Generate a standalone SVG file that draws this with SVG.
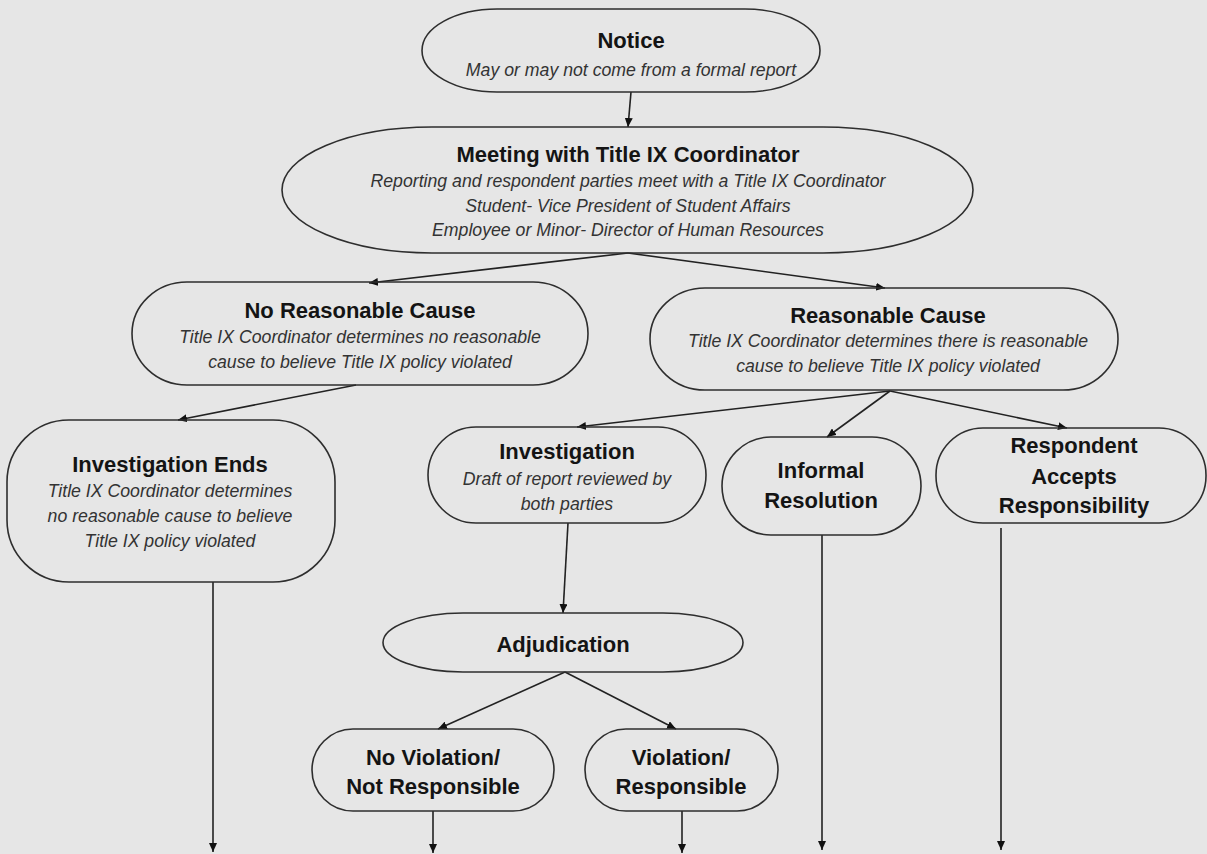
<svg xmlns="http://www.w3.org/2000/svg" width="1207" height="854" viewBox="0 0 1207 854">
<style>
.n{fill:none;stroke:#2e2e2e;stroke-width:1.6}
.t{font-family:"Liberation Sans",Arial,sans-serif;font-weight:bold;font-size:22px;fill:#141414;text-anchor:middle}
.s{font-family:"Liberation Sans",Arial,sans-serif;font-style:italic;font-size:17.7px;fill:#333;text-anchor:middle}
.c{fill:none;stroke:#222;stroke-width:1.6}
</style>
<defs>
<marker id="ah" markerUnits="userSpaceOnUse" markerWidth="9" markerHeight="8" refX="9" refY="4" orient="auto">
<path d="M0,0 L9,4 L0,8 z" fill="#111"/>
</marker>
</defs>
<rect width="1207" height="854" fill="#e6e6e6"/>
<g id="connectors">
<line class="c" x1="631" y1="92" x2="628" y2="127" marker-end="url(#ah)"/>
<line class="c" x1="628" y1="253" x2="369" y2="283" marker-end="url(#ah)"/>
<line class="c" x1="628" y1="253" x2="885" y2="288" marker-end="url(#ah)"/>
<line class="c" x1="356" y1="385" x2="178" y2="420" marker-end="url(#ah)"/>
<line class="c" x1="890" y1="391" x2="577" y2="427" marker-end="url(#ah)"/>
<line class="c" x1="890" y1="391" x2="827" y2="437" marker-end="url(#ah)"/>
<line class="c" x1="890" y1="391" x2="1067" y2="428" marker-end="url(#ah)"/>
<line class="c" x1="568" y1="523" x2="563" y2="613" marker-end="url(#ah)"/>
<line class="c" x1="565" y1="672" x2="438" y2="729" marker-end="url(#ah)"/>
<line class="c" x1="565" y1="672" x2="676" y2="729" marker-end="url(#ah)"/>
<line class="c" x1="213" y1="582" x2="213" y2="852" marker-end="url(#ah)"/>
<line class="c" x1="433" y1="811" x2="433" y2="853" marker-end="url(#ah)"/>
<line class="c" x1="682" y1="811" x2="682" y2="853" marker-end="url(#ah)"/>
<line class="c" x1="822" y1="535" x2="822" y2="850" marker-end="url(#ah)"/>
<line class="c" x1="1001" y1="528" x2="1001" y2="850" marker-end="url(#ah)"/>
</g>
<g id="notice">
<rect class="n" x="422" y="9" width="398" height="83" rx="75" ry="41.5"/>
<text class="t" x="631" y="48">Notice</text>
<text class="s" x="631" y="76">May or may not come from a formal report</text>
</g>
<g id="meeting">
<rect class="n" x="282" y="127" width="691" height="126" rx="150" ry="63"/>
<text class="t" x="628" y="162">Meeting with Title IX Coordinator</text>
<text class="s" x="628" y="187">Reporting and respondent parties meet with a Title IX Coordinator</text>
<text class="s" x="628" y="212">Student- Vice President of Student Affairs</text>
<text class="s" x="628" y="236">Employee or Minor- Director of Human Resources</text>
</g>
<g id="no-reasonable-cause">
<rect class="n" x="132" y="282" width="456" height="103" rx="55" ry="51.5"/>
<text class="t" x="360" y="318">No Reasonable Cause</text>
<text class="s" x="360" y="343">Title IX Coordinator determines no reasonable</text>
<text class="s" x="360" y="368">cause to believe Title IX policy violated</text>
</g>
<g id="reasonable-cause">
<rect class="n" x="650" y="288" width="468" height="102" rx="55" ry="51"/>
<text class="t" x="888" y="323">Reasonable Cause</text>
<text class="s" x="888" y="347">Title IX Coordinator determines there is reasonable</text>
<text class="s" x="888" y="372">cause to believe Title IX policy violated</text>
</g>
<g id="investigation-ends">
<rect class="n" x="7" y="420" width="328" height="162" rx="62" ry="62"/>
<text class="t" x="170" y="472">Investigation Ends</text>
<text class="s" x="170" y="497">Title IX Coordinator determines</text>
<text class="s" x="170" y="522">no reasonable cause to believe</text>
<text class="s" x="170" y="547">Title IX policy violated</text>
</g>
<g id="investigation">
<rect class="n" x="428" y="427" width="278" height="96" rx="48" ry="48"/>
<text class="t" x="567" y="459">Investigation</text>
<text class="s" x="567" y="485">Draft of report reviewed by</text>
<text class="s" x="567" y="510">both parties</text>
</g>
<g id="informal-resolution">
<rect class="n" x="722" y="437" width="199" height="98" rx="49" ry="49"/>
<text class="t" x="821" y="478">Informal</text>
<text class="t" x="821" y="508">Resolution</text>
</g>
<g id="respondent-accepts">
<rect class="n" x="936" y="428" width="270" height="95" rx="47" ry="47"/>
<text class="t" x="1074" y="453">Respondent</text>
<text class="t" x="1074" y="484">Accepts</text>
<text class="t" x="1074" y="513">Responsibility</text>
</g>
<g id="adjudication">
<rect class="n" x="383" y="613" width="360" height="59" rx="80" ry="29.5"/>
<text class="t" x="563" y="652">Adjudication</text>
</g>
<g id="no-violation">
<rect class="n" x="312" y="729" width="242" height="82" rx="41" ry="41"/>
<text class="t" x="433" y="765">No Violation/</text>
<text class="t" x="433" y="794">Not Responsible</text>
</g>
<g id="violation">
<rect class="n" x="585" y="729" width="193" height="82" rx="41" ry="41"/>
<text class="t" x="681" y="765">Violation/</text>
<text class="t" x="681" y="794">Responsible</text>
</g>
</svg>
